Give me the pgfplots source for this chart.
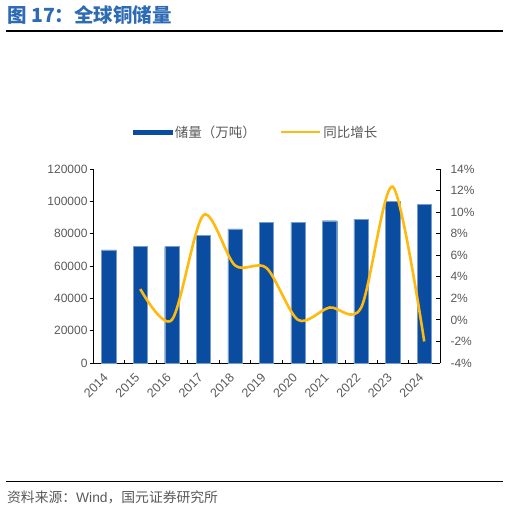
\documentclass[border=0pt]{standalone}
\usepackage{pgfplots}
\pgfplotsset{compat=1.18}
\usepackage{fontspec}
\setmainfont{Liberation Sans}
\newfontfamily\cjk{Noto Sans CJK SC}
\definecolor{barblue}{HTML}{0A4CA0}
\definecolor{lineyel}{HTML}{FFB90F}
\definecolor{tickgray}{HTML}{595959}
\definecolor{titleblue}{HTML}{2E6BB5}
\begin{document}
\begin{tikzpicture}[x=1pt,y=1pt]
\path[use as bounding box] (0,0) rectangle (509,-511);
\node[anchor=west, text=titleblue, inner sep=0pt, font=\fontsize{19.5}{22}\selectfont\cjk\bfseries] at (7,-15) {图 17：全球铜储量};
\draw[line width=1.6pt] (6,-31) -- (503,-31);
\draw[line width=1.6pt] (6,-481.5) -- (503,-481.5);
\node[anchor=west, inner sep=0pt, text=tickgray, font=\fontsize{13.8}{16}\selectfont] at (7,-497) {{\cjk 资料来源：}Wind{\cjk ，国元证券研究所}};

\begin{axis}[
  at={(93pt,-363pt)}, anchor=south west,
  width=347pt, height=194pt, scale only axis,
  xmin=-0.5, xmax=10.5, ymin=0, ymax=120000,
  axis y line*=left, axis x line*=bottom,
  axis line style={black, line width=0.9pt},
  ybar, bar width=14.3pt,
  xtick={0,...,10},
  xticklabels={2014,2015,2016,2017,2018,2019,2020,2021,2022,2023,2024},
  major x tick style={draw=none},
  minor xtick={0.5,1.5,...,9.5},
  minor x tick style={black, line width=0.8pt},
  minor tick length=3.5pt,
  tick align=inside,
  ytick={0,20000,...,120000},
  major y tick style={black, line width=0.8pt, xshift=-3pt},
  major tick length=4pt,
  scaled y ticks=false,
  /pgf/number format/assume math mode=true,
  yticklabel style={/pgf/number format/fixed, /pgf/number format/set thousands separator={}, xshift=-2pt},
  tick label style={text=tickgray, font=\fontsize{12}{14}\selectfont},
  xticklabel style={xshift=-0.5pt, yshift=-10.5pt, rotate=45, anchor=east, font=\fontsize{12.5}{14}\selectfont},
]
\addplot[fill=barblue, draw=barblue!55!white, line width=0.4pt] coordinates {
(0,70000) (1,72000) (2,72000) (3,79000) (4,83000) (5,87000)
(6,87000) (7,88000) (8,89000) (9,100000) (10,98000)};
\end{axis}

\begin{axis}[
  at={(93pt,-363pt)}, anchor=south west,
  width=347pt, height=194pt, scale only axis,
  xmin=-0.5, xmax=10.5, ymin=-4, ymax=14,
  axis y line*=right, axis x line=none,
  axis line style={black, line width=0.9pt},
  ytick={-4,-2,...,14},
  tick align=inside,
  major tick length=4pt,
  major y tick style={black, line width=0.8pt},
  /pgf/number format/assume math mode=true,
  yticklabel={\pgfmathprintnumber{\tick}\%},
  yticklabel style={xshift=7pt},
  tick label style={text=tickgray, font=\fontsize{12}{14}\selectfont},
  legend style={at={(0.471,1.19)}, anchor=center, legend columns=2, draw=none, fill=none,
    font=\fontsize{13.5}{15}\selectfont\cjk, text=tickgray,
    /tikz/every even column/.append style={column sep=22pt}},
]
\addlegendimage{legend image code/.code={\fill[barblue] (0pt,-2.3pt) rectangle (39pt,2.3pt);}}
\addlegendentry{储量（万吨）}
\addplot[lineyel, line width=2.6pt, smooth, tension=0.5,
  legend image code/.code={\draw[lineyel, line width=2.6pt] (0pt,0pt) -- (39pt,0pt);}] coordinates {
(1,2.86) (2,0) (3,9.72) (4,5.06) (5,4.82) (6,0) (7,1.15) (8,1.14) (9,12.36) (10,-2)};
\addlegendentry{同比增长}
\end{axis}
\end{tikzpicture}
\end{document}
